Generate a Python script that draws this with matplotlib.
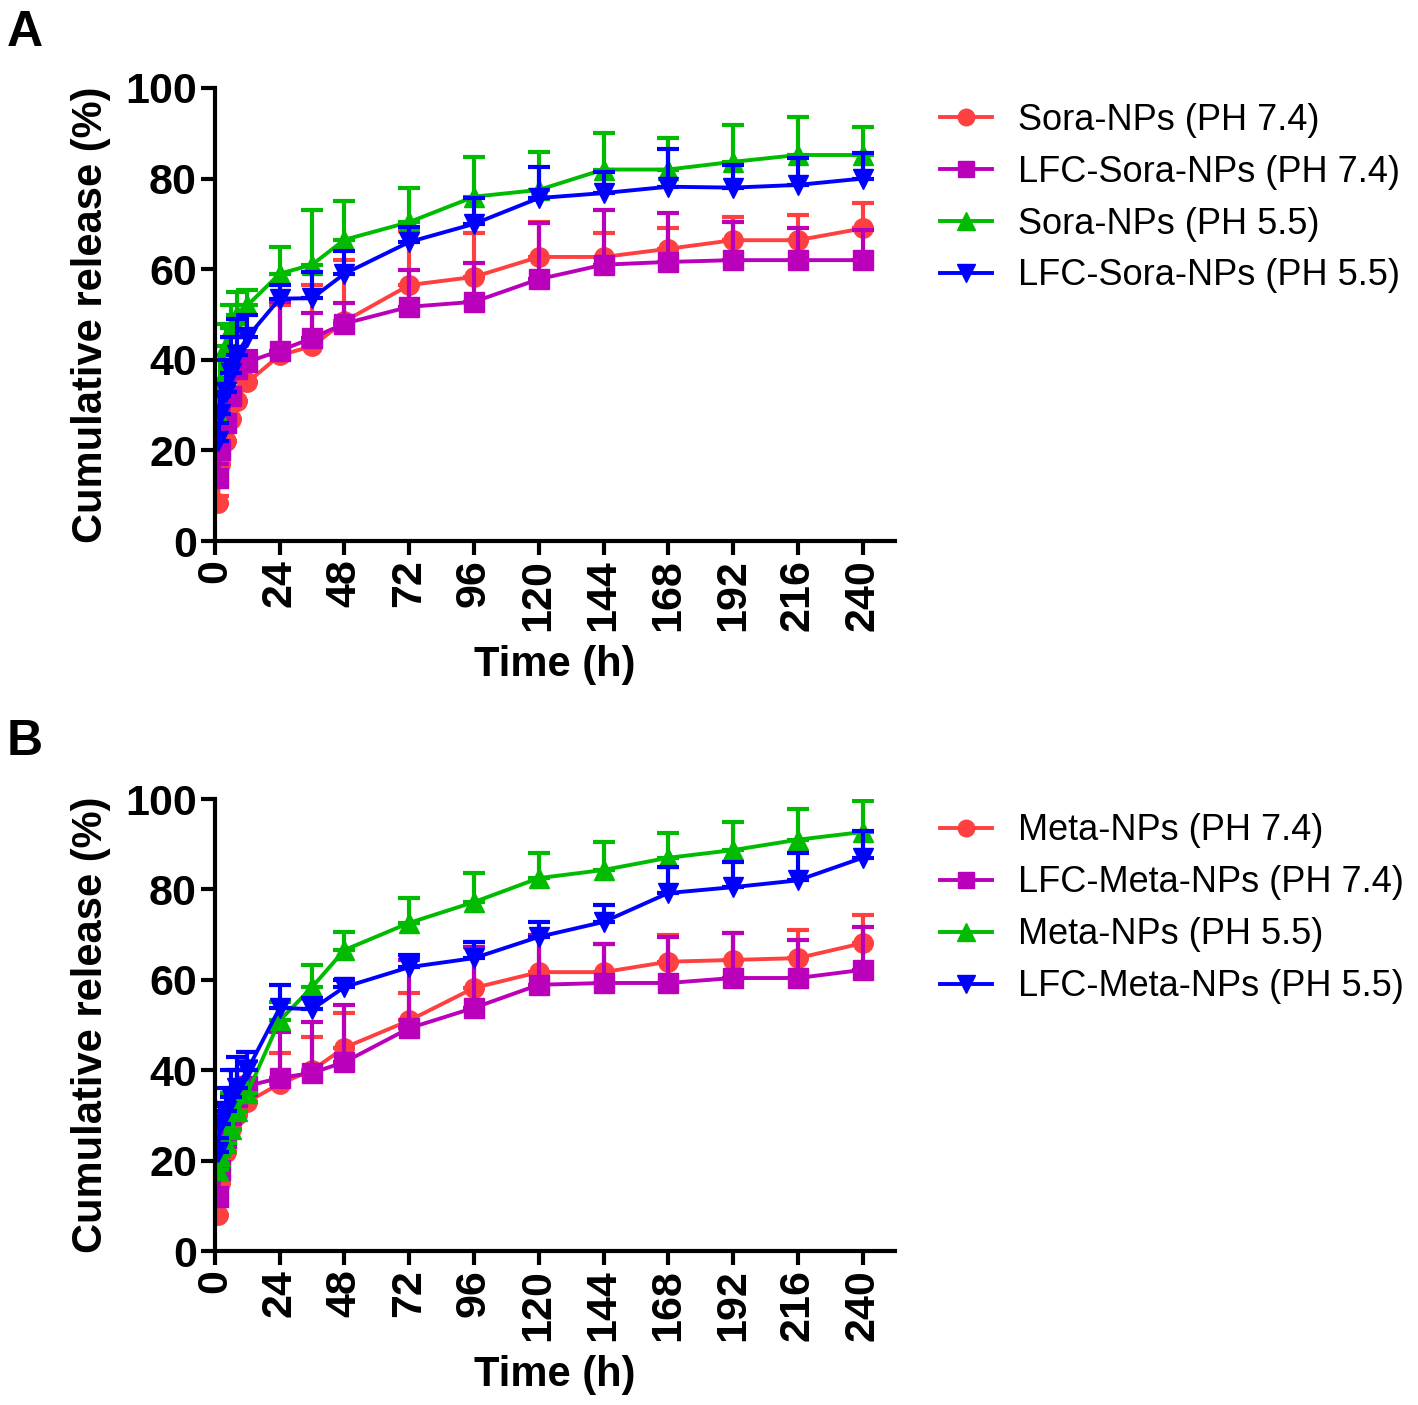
import numpy as np
import matplotlib.pyplot as plt

plt.rcParams['font.family'] = ['Liberation Sans', 'DejaVu Sans']

# time points (h)
t = [1, 2, 4, 6, 8, 12, 24, 36, 48, 72, 96, 120, 144, 168, 192, 216, 240]

# panel A - Sorafenib
sora74 = [8.5, 17, 22, 27, 31, 35, 41, 43, 48.5, 56.5, 58.3, 62.7, 62.7, 64.5, 66.4, 66.4, 69]
sora74_sd = [1.5, 3, 4, 3, 3, 3, 11, 13.5, 13.5, 12, 9.7, 7.7, 5.3, 4.5, 5.1, 5.6, 5.6]
lfc_sora74 = [14, 20, 26, 32, 38, 39.5, 42, 44.8, 48, 51.7, 52.8, 57.8, 61, 61.6, 62, 62, 62]
lfc_sora74_sd = [3, 2, 4, 4, 2, 2.5, 10.8, 5.5, 4.5, 8.1, 8.5, 12.4, 12, 10.8, 8.4, 7, 6.7]
sora55 = [28, 35, 43, 47, 50, 52, 59, 61, 66.5, 70.4, 76, 77.5, 82, 82, 83.7, 85.2, 85.2]
sora55_sd = [6, 6, 5, 5, 5, 3.5, 6, 12, 8.5, 7.6, 8.8, 8.4, 8, 7, 8.1, 8.4, 6.2]
lfc_sora55 = [22, 28, 33, 37, 41, 45, 53.5, 53.6, 59, 66, 70, 75.7, 76.8, 78.2, 78, 78.6, 80]
lfc_sora55_sd = [4, 4, 7, 8, 8, 5, 3, 5.8, 5, 3.3, 5.7, 6.8, 4.7, 8.3, 5, 5.9, 5.6]

# panel B - Metapristone
meta74 = [8, 15, 22, 27, 30, 33, 37, 40, 45, 51, 58.2, 61.7, 61.7, 64, 64.4, 64.8, 68.1]
meta74_sd = [2, 3, 4, 4, 4, 3, 6.8, 7.3, 7.6, 6, 9.1, 7.8, 6.3, 6, 6, 6.2, 6.2]
lfc_meta74 = [12, 18, 25, 30, 34, 36.5, 38.3, 39.4, 41.8, 49.3, 53.8, 58.9, 59.3, 59.3, 60.4, 60.4, 62.2]
lfc_meta74_sd = [2, 4, 4, 5, 6, 7.5, 10.2, 11.3, 12.6, 15.1, 13.5, 11.1, 8.7, 10.2, 9.9, 8.4, 9.5]
meta55 = [18, 21, 24, 27, 31, 35, 51, 58.4, 66.6, 72.6, 77.2, 82.5, 84.3, 87, 88.7, 91, 92.7]
meta55_sd = [3, 4, 6, 8, 9, 7, 4, 4.9, 4, 5.4, 6.4, 5.5, 6.2, 5.5, 6.3, 6.8, 6.9]
lfc_meta55 = [22, 28, 31, 34, 36, 40, 53.8, 53.5, 58.4, 62.8, 64.8, 69.5, 72.8, 79.2, 80.5, 82, 87]
lfc_meta55_sd = [3, 4, 5, 6, 7, 4, 5.1, 2.5, 1.6, 2.7, 3.6, 3.3, 3.7, 5.8, 5.5, 6, 6]

labels_A = ['Sora-NPs (PH 7.4)', 'LFC-Sora-NPs (PH 7.4)', 'Sora-NPs (PH 5.5)', 'LFC-Sora-NPs (PH 5.5)']
labels_B = ['Meta-NPs (PH 7.4)', 'LFC-Meta-NPs (PH 7.4)', 'Meta-NPs (PH 5.5)', 'LFC-Meta-NPs (PH 5.5)']

colors = ['#FF4040', '#BB00BB', '#00BB00', '#0000FF']
markers = ['o', 's', '^', 'v']
msizes = [14, 14, 15, 15]
xticks = list(range(0, 241, 24))


def draw(ax, series, sds, labels, legend_y):
    for y, sd, lab, c, m, ms in zip(series, sds, labels, colors, markers, msizes):
        ax.errorbar(t, y, yerr=[np.zeros(len(sd)), sd], fmt='none', ecolor=c,
                    elinewidth=3, capsize=8, capthick=3)
        ax.plot(t, y, color=c, marker=m, markersize=ms, linewidth=2.8, label=lab)
    ax.set_xlim(0, 252)
    ax.set_ylim(0, 100)
    ax.set_xticks(xticks)
    ax.set_yticks(range(0, 101, 20))
    for s in ['top', 'right']:
        ax.spines[s].set_visible(False)
    for s in ['left', 'bottom']:
        ax.spines[s].set_linewidth(3)
    ax.tick_params(width=3, length=10, pad=3, labelsize=31)
    for lb in ax.get_xticklabels() + ax.get_yticklabels():
        lb.set_fontweight('bold')
    for lb in ax.get_xticklabels():
        lb.set_rotation(90)
    ax.set_xlabel('Time (h)', fontsize=30, fontweight='bold', labelpad=10)
    ax.set_ylabel('Cumulative release (%)', fontsize=30, fontweight='bold', labelpad=10)
    ax.legend(loc='upper left', bbox_to_anchor=(0.663, legend_y), bbox_transform=fig.transFigure,
              frameon=False, fontsize=26, handlelength=1.45, handletextpad=0.7,
              labelspacing=0.47, borderpad=0, borderaxespad=0, markerscale=0.85)


fig = plt.figure(figsize=(14.18, 14.05), dpi=100)
axA = fig.add_axes([0.1516, 0.6149, 0.4795, 0.3225])
axB = fig.add_axes([0.1516, 0.1096, 0.4795, 0.3217])

draw(axA, [sora74, lfc_sora74, sora55, lfc_sora55],
     [sora74_sd, lfc_sora74_sd, sora55_sd, lfc_sora55_sd], labels_A, 0.927)
draw(axB, [meta74, lfc_meta74, meta55, lfc_meta55],
     [meta74_sd, lfc_meta74_sd, meta55_sd, lfc_meta55_sd], labels_B, 0.421)

fig.text(0.005, 0.993, 'A', fontsize=36, fontweight='bold', va='top')
fig.text(0.005, 0.488, 'B', fontsize=36, fontweight='bold', va='top')

fig.savefig('out.png', dpi=100)
